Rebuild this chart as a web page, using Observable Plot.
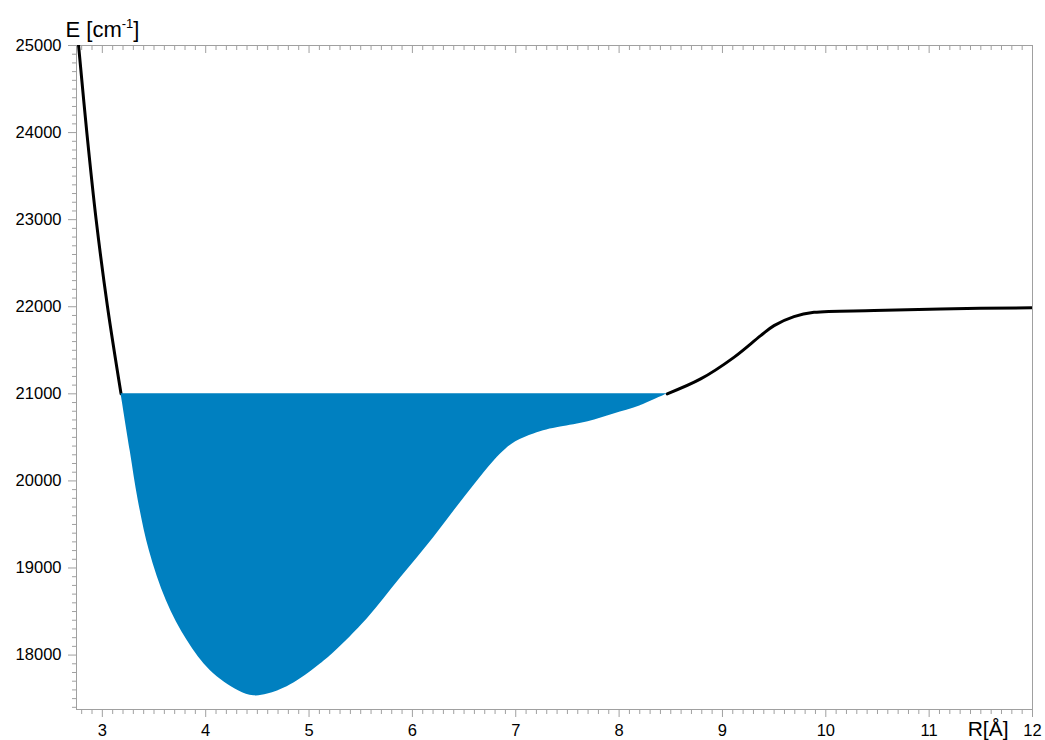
<!DOCTYPE html>
<html>
<head>
<meta charset="utf-8">
<script src="https://cdn.jsdelivr.net/npm/d3@7"></script>
<script src="https://cdn.jsdelivr.net/npm/@observablehq/plot@0.6"></script>
<style>
  html, body { margin: 0; padding: 0; background: #fff; }
  #chart svg { display: block; }
</style>
</head>
<body>
<div id="chart"></div>
<script>
// Potential energy curve: R [Å] vs E [cm^-1]
const R = [2.75, 2.77, 2.85, 2.94, 3.05, 3.181, 3.27, 3.348, 3.455, 3.62, 3.823, 4.046, 4.317, 4.465, 4.60, 4.788, 4.917, 5.110, 5.239, 5.562, 5.885, 6.207, 6.530, 6.853, 7.0, 7.175, 7.30, 7.434, 7.70, 7.950, 8.20, 8.466, 8.789, 9.111, 9.370, 9.499, 9.692, 9.886, 10.467, 11.112, 12.0];
const E = [25250, 25000, 24000, 23000, 22000, 21000, 20340, 19773, 19199, 18625, 18164, 17820, 17590, 17532, 17552, 17637, 17727, 17897, 18027, 18415, 18885, 19351, 19850, 20309, 20450, 20539, 20585, 20618, 20680, 20769, 20860, 21000, 21171, 21419, 21668, 21783, 21887, 21936, 21956, 21975, 21988];
const fillLevel = 21000;
const wellLeft = 3.181;
const wellRight = 8.466;
const xTickLabels = [3, 4, 5, 6, 7, 8, 9, 10, 11, 12];
const yTickLabels = [18000, 19000, 20000, 21000, 22000, 23000, 24000, 25000];

const curve = R.map((r, i) => ({R: r, E: E[i]}));
const well = curve.filter(d => d.R >= wellLeft && d.R <= wellRight);
const leftWall = curve.filter(d => d.R <= wellLeft);
const rightPart = curve.filter(d => d.R >= wellRight);

const xMinor = d3.range(28, 121).map(v => v / 10).filter(v => !Number.isInteger(v));
const yMinor = d3.range(174, 251).map(v => v * 100).filter(v => v % 1000 !== 0);

const gray = "#a0a0a0";
const fmt = d3.format("d");

const chart = Plot.plot({
  width: 1045,
  height: 740,
  marginLeft: 76,
  marginRight: 13,
  marginTop: 45,
  marginBottom: 31,
  style: {fontFamily: "'Liberation Sans', Arial, sans-serif", fontSize: "16px", color: "#000", background: "#fff"},
  x: {domain: [2.75, 12]},
  y: {domain: [17375, 25000]},
  marks: [
    Plot.frame({stroke: gray}),
    // bottom ticks
    Plot.axisX({ticks: xMinor, tickSize: 5, text: null, label: null, stroke: gray}),
    Plot.axisX({ticks: xTickLabels, tickSize: 8, text: null, label: null, stroke: gray}),
    Plot.axisX({ticks: xTickLabels, tickSize: 0, tickPadding: 15, tickFormat: fmt, label: null, fontSize: 16.5, fill: "#000"}),
    // top ticks (inward)
    Plot.axisX({anchor: "top", ticks: xMinor, tickSize: 4, dy: 4, text: null, label: null, stroke: gray}),
    Plot.axisX({anchor: "top", ticks: xTickLabels, tickSize: 7, dy: 7, text: null, label: null, stroke: gray}),
    // left ticks
    Plot.axisY({ticks: yMinor, tickSize: 4, text: null, label: null, stroke: gray}),
    Plot.axisY({ticks: yTickLabels, tickSize: 8, text: null, label: null, stroke: gray}),
    Plot.axisY({ticks: yTickLabels, tickSize: 0, tickPadding: 15, tickFormat: fmt, label: null, fontSize: 16.5, fill: "#000"}),
    // curve outside the filled well
    Plot.line(leftWall, {x: "R", y: "E", stroke: "#000", strokeWidth: 3, curve: "catmull-rom", clip: true}),
    Plot.line(rightPart, {x: "R", y: "E", stroke: "#000", strokeWidth: 3, curve: "catmull-rom", clip: true}),
    // filled well below the 21000 level
    Plot.areaY(well, {x: "R", y1: "E", y2: () => fillLevel, fill: "#0080c0", curve: "catmull-rom"}),
    // axis titles
    Plot.text(["E [cm-1]"], {frameAnchor: "top-left", dx: -11, dy: -9, text: d => d, textAnchor: "start", lineAnchor: "bottom", fontSize: 22, fill: "#000"}),
    Plot.text(["R[Å]"], {x: () => 11.57, frameAnchor: "bottom", dy: 26, text: d => d, textAnchor: "middle", lineAnchor: "bottom", fontSize: 21, fill: "#000"})
  ]
});

// superscript for the energy unit
d3.select(chart).selectAll("text").each(function() {
  if (this.textContent === "E [cm-1]") {
    const el = d3.select(this);
    el.text(null);
    el.append("tspan").text("E [cm");
    el.append("tspan").attr("dy", -9).attr("font-size", 13).text("-1");
    el.append("tspan").attr("dy", 9).text("]");
  }
});

document.getElementById("chart").appendChild(chart);
</script>
</body>
</html>
